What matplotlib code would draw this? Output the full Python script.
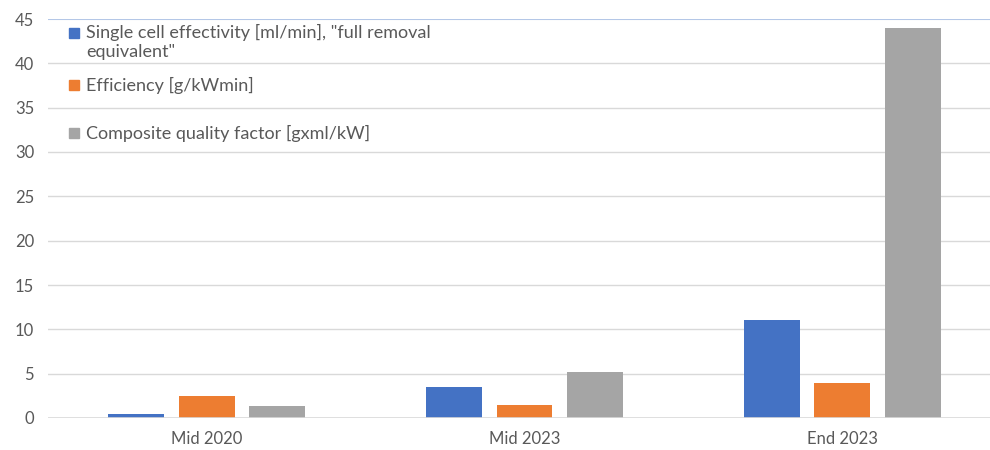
import matplotlib.pyplot as plt
import numpy as np

plt.rcParams['font.family'] = ['Lato', 'DejaVu Sans']

categories = ['Mid 2020', 'Mid 2023', 'End 2023']
effectivity = [0.5, 3.5, 11]
efficiency = [2.5, 1.5, 4]
quality = [1.3, 5.2, 44]
labels = ['Single cell effectivity [ml/min], "full removal\nequivalent"',
          'Efficiency [g/kWmin]',
          'Composite quality factor [gxml/kW]']
colors = ['#4472C4', '#ED7D31', '#A5A5A5']

fig = plt.figure(figsize=(9.9, 4.5), dpi=100)
# plot area runs a little past the right edge of the picture
ax = fig.add_axes([48 / 990, 32 / 450, 953 / 990, 399 / 450])

x = np.arange(len(categories))
width = 0.176
step = 0.222
for i, vals in enumerate([effectivity, efficiency, quality]):
    ax.bar(x + (i - 1) * step, vals, width, color=colors[i], zorder=3)

ax.set_xlim(-0.5, 2.5)
ax.set_ylim(0, 45)
ax.set_yticks(range(0, 46, 5))
ax.set_xticks(x)
ax.set_xticklabels(categories)
ax.tick_params(length=0, labelsize=12, labelcolor='#595959')
ax.tick_params(axis='x', pad=9)
ax.tick_params(axis='y', pad=10)

for y in range(5, 41, 5):
    ax.axhline(y, color='#D9D9D9', lw=1, zorder=1)
ax.axhline(45, color='#B4C7E7', lw=1.5, zorder=1)
ax.axhline(0, color='#D9D9D9', lw=1.2, zorder=4)
for s in ax.spines.values():
    s.set_visible(False)

# legend drawn by hand, Excel-style (marker on first line, uneven spacing)
leg_y = [0.965, 0.8346, 0.7143]
for lab, c, ly in zip(labels, colors, leg_y):
    ax.plot([0.0278], [ly], 's', ms=6.8, color=c, transform=ax.transAxes,
            clip_on=False, zorder=5)
    ax.text(0.0399, ly, lab.split('\n')[0], transform=ax.transAxes,
            fontsize=13, color='#595959', va='center', ha='left')
    if '\n' in lab:
        ax.text(0.0399, ly - 19 / 399, lab.split('\n')[1], transform=ax.transAxes,
                fontsize=13, color='#595959', va='center', ha='left')

plt.savefig('out.png')
